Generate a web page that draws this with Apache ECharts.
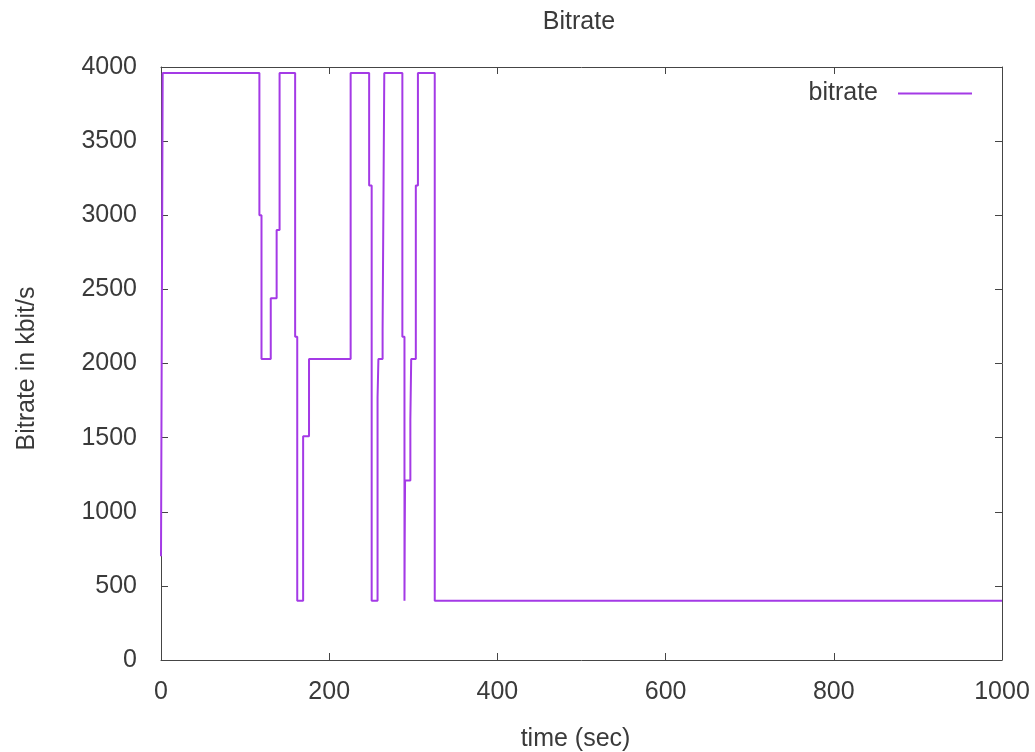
<!DOCTYPE html>
<html>
<head>
<meta charset="utf-8">
<script src="https://cdn.jsdelivr.net/npm/echarts@6/dist/echarts.min.js"></script>
<style>
  html, body { margin: 0; padding: 0; background: #fff; }
  #chart { width: 1035px; height: 752px; }
</style>
</head>
<body>
<div id="chart"></div>
<script>
// change points of the bitrate step curve (time in sec, value in kbit/s)
var times   = [0, 2, 117, 119.5, 130.5, 137.5, 141, 159.5, 162, 169, 176, 225.5, 247.5, 250.5, 257.5, 258.5, 263.5, 265.5, 287, 289.5, 289.8, 290.2, 296.5, 297.5, 303, 305.5, 325.5, 1000];
var bitrate = [700, 3960, 3000, 2030, 2440, 2900, 3960, 2180, 400, 1510, 2030, 3960, 3200, 400, 1770, 2030, 2230, 3960, 2180, 400, 810, 1210, 1620, 2030, 3200, 3960, 400, 400];
var xTicks = [0, 200, 400, 600, 800, 1000];
var yTicks = [0, 500, 1000, 1500, 2000, 2500, 3000, 3500, 4000];

var font = "'Liberation Sans', Arial, sans-serif";
var textColor = '#3a3a3a';
var lineColor = '#454545';

// hold each value until the next change point (gnuplot "steps")
var points = [];
for (var i = 0; i < times.length; i++) {
	if (i > 0) points.push([times[i], bitrate[i - 1]]);
	points.push([times[i], bitrate[i]]);
}

function frameAxis(pos, ticks, showLabel) {
	return {
		type: 'value',
		position: pos,
		min: ticks[0],
		max: ticks[ticks.length - 1],
		interval: ticks[1] - ticks[0],
		axisLine: { show: true, onZero: false, lineStyle: { color: lineColor, width: 1 } },
		axisTick: { show: true, inside: true, length: 7, lineStyle: { color: lineColor } },
		splitLine: { show: false },
		axisLabel: {
			show: showLabel,
			color: textColor,
			fontFamily: font,
			fontSize: 25,
			formatter: function(v) { return String(v); } // no thousands separator
		}
	};
}

var chart = echarts.init(document.getElementById('chart'));

var xBottom = frameAxis('bottom', xTicks, true);
xBottom.axisLabel.margin = 20;
xBottom.name = 'time (sec)';
xBottom.nameLocation = 'middle';
xBottom.nameGap = 67;
xBottom.nameTextStyle = { color: textColor, fontFamily: font, fontSize: 25, padding: [0, 12, 0, 0] };

var yLeft = frameAxis('left', yTicks, true);
yLeft.axisLabel.margin = 24;
yLeft.name = 'Bitrate in kbit/s';
yLeft.nameLocation = 'middle';
yLeft.nameGap = 121;
yLeft.nameTextStyle = { color: textColor, fontFamily: font, fontSize: 25, padding: [0, 10, 0, 0] };

var option = {
	animation: false,
	backgroundColor: '#fff',
	title: {
		text: 'Bitrate',
		left: 574,
		textAlign: 'center',
		top: 5,
		textStyle: { color: textColor, fontFamily: font, fontSize: 25, fontWeight: 'normal' }
	},
	legend: {
		right: 58,
		top: 76,
		align: 'right',
		icon: 'rect',
		itemWidth: 74,
		itemHeight: 2,
		textStyle: { color: textColor, fontFamily: font, fontSize: 25, padding: [0, 15, 0, 0] },
		data: ['bitrate']
	},
	grid: { left: 161, right: 33, top: 67, bottom: 92, outerBoundsMode: 'none' },
	xAxis: [xBottom, frameAxis('top', xTicks, false)],
	yAxis: [yLeft, frameAxis('right', yTicks, false)],
	series: [{
		name: 'bitrate',
		type: 'line',
		symbol: 'none',
		data: points,
		lineStyle: { color: '#a43ae6', width: 2 },
		itemStyle: { color: '#a43ae6' }
	}]
};

chart.setOption(option);
</script>
</body>
</html>
